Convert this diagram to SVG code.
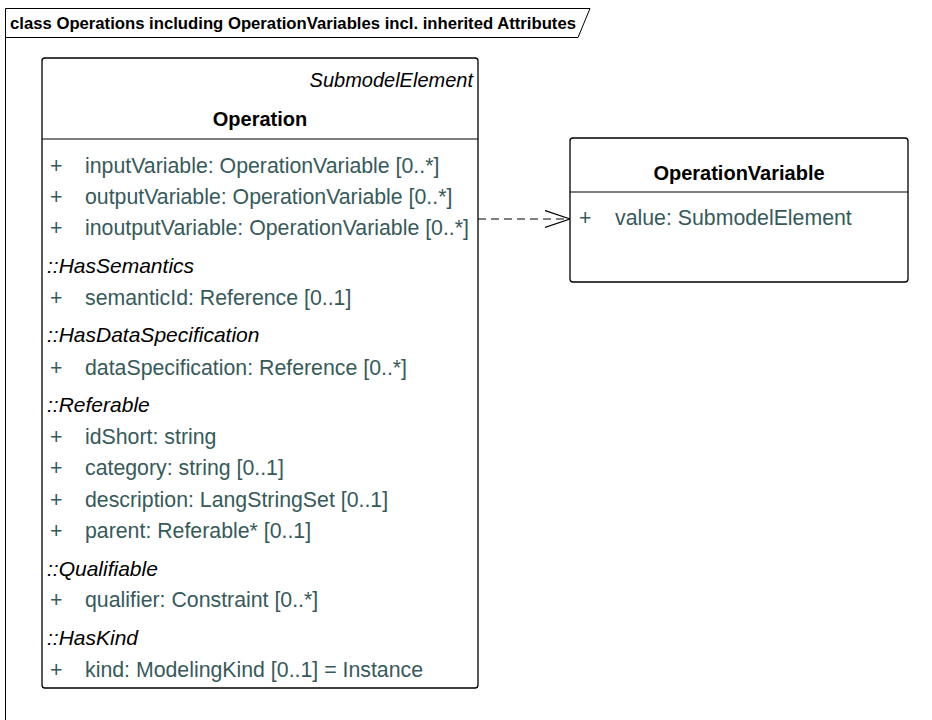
<svg xmlns="http://www.w3.org/2000/svg" width="932" height="720" viewBox="0 0 932 720">
<style>
.frame{fill:none;stroke:#000;stroke-width:1}
.box{fill:#fff;stroke:#000;stroke-width:1.3}
.div{stroke:#000;stroke-width:1}
text{font-family:"Liberation Sans",Arial,sans-serif}
.tab{font-size:16.7px;font-weight:bold;fill:#000}
.title{font-size:20px;font-weight:bold;fill:#000;text-anchor:middle}
.stereo{font-size:20px;font-style:italic;fill:#000;text-anchor:end}
.attr{font-size:21.3px;fill:#365a5a}
.grp{font-size:21px;font-style:italic;fill:#000}
.conn{fill:none;stroke:#000;stroke-width:1.1}
</style>
<defs>
<marker id="open" markerWidth="28" markerHeight="20" refX="25" refY="9" orient="auto" markerUnits="userSpaceOnUse">
<path d="M0,0.5 L25,9 L0,17.5" fill="none" stroke="#000" stroke-width="1.2"/>
</marker>
</defs>
<rect width="932" height="720" fill="#fff"/>
<g id="frame">
<path class="frame" d="M5.5,720 L5.5,8.5 L590,8.5 L578,37.5 L5.5,37.5"/>
<text class="tab" x="10" y="28.5">class Operations including OperationVariables incl. inherited Attributes</text>
</g>
<g id="connectors">
<line class="conn" x1="478" y1="219" x2="570" y2="219" stroke-dasharray="8 5" marker-end="url(#open)"/>
</g>
<g id="Operation">
<rect class="box" x="42" y="58" width="436" height="630" rx="3"/>
<line class="div" x1="42" y1="139" x2="478" y2="139"/>
<text class="stereo" x="473" y="87">SubmodelElement</text>
<text class="title" x="260" y="126">Operation</text>
<g class="attr">
<text x="50" y="173">+</text><text x="85" y="173">inputVariable: OperationVariable [0..*]</text>
<text x="50" y="204">+</text><text x="85" y="204">outputVariable: OperationVariable [0..*]</text>
<text x="50" y="235">+</text><text x="85" y="235">inoutputVariable: OperationVariable [0..*]</text>
<text x="50" y="305">+</text><text x="85" y="305">semanticId: Reference [0..1]</text>
<text x="50" y="375">+</text><text x="85" y="375">dataSpecification: Reference [0..*]</text>
<text x="50" y="444">+</text><text x="85" y="444">idShort: string</text>
<text x="50" y="475">+</text><text x="85" y="475">category: string [0..1]</text>
<text x="50" y="507">+</text><text x="85" y="507">description: LangStringSet [0..1]</text>
<text x="50" y="538">+</text><text x="85" y="538">parent: Referable* [0..1]</text>
<text x="50" y="607">+</text><text x="85" y="607">qualifier: Constraint [0..*]</text>
<text x="50" y="677">+</text><text x="85" y="677">kind: ModelingKind [0..1] = Instance</text>
</g>
<g class="grp">
<text x="47" y="273">::HasSemantics</text>
<text x="47" y="342">::HasDataSpecification</text>
<text x="47" y="412">::Referable</text>
<text x="47" y="576">::Qualifiable</text>
<text x="47" y="645">::HasKind</text>
</g>
</g>
<g id="OperationVariable">
<rect class="box" x="570" y="138" width="338" height="144" rx="3"/>
<line class="div" x1="570" y1="192" x2="908" y2="192"/>
<text class="title" x="739" y="180">OperationVariable</text>
<text class="attr" x="579" y="225">+</text>
<text class="attr" x="615" y="225">value: SubmodelElement</text>
</g>
</svg>
